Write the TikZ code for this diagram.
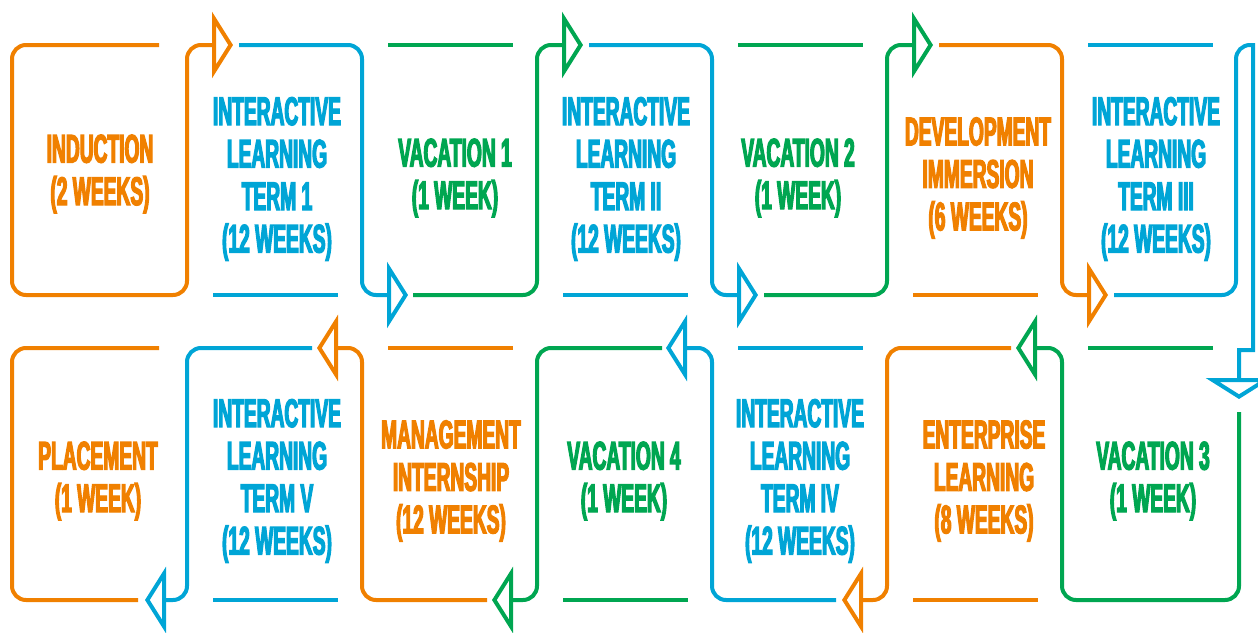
\documentclass[tikz,border=0pt]{standalone}
\usepackage{fontspec}
\newfontfamily\stagefont{Liberation Sans}[FakeStretch=0.48,FakeBold=3]
\usetikzlibrary{arrows.meta}
\definecolor{stageorange}{RGB}{240,128,0}
\definecolor{stageblue}{RGB}{0,165,214}
\definecolor{stagegreen}{RGB}{0,166,81}
\tikzset{
  stage/.style={align=center, font=\stagefont\bfseries\fontsize{40}{42.5}\selectfont},
  flow/.style={-{Triangle[open,length=21pt,width=66pt]}},
}
\begin{document}
\begin{tikzpicture}[x=1pt, y=-1pt, line width=4pt, rounded corners=14pt]
\useasboundingbox (0,0) rectangle (1258,632);
% top row, left to right
\draw[stageorange, flow] (159,45) -- (12,45) -- (12,295) -- (187,295) -- (187,45) -- (233,45);
\draw[stageblue, flow] (239,45) -- (362,45) -- (362,295) -- (408,295);
\draw[stagegreen, flow] (413,295) -- (537,295) -- (537,45) -- (583,45);
\draw[stageblue, flow] (589,45) -- (712,45) -- (712,295) -- (758,295);
\draw[stagegreen, flow] (764,295) -- (887,295) -- (887,45) -- (933,45);
\draw[stageorange, flow] (939,45) -- (1062,45) -- (1062,295) -- (1108,295);
\draw[stageblue, flow] (1114,295) -- (1236,295) -- (1236,45) [sharp corners] -- (1253,45)
  -- (1253,350) -- (1239,350) -- (1239,399);
% bottom row, right to left
\draw[stagegreen, flow] (1239,412) -- (1239,600) -- (1062,600) -- (1062,348) -- (1016,348);
\draw[stageorange, flow] (1011,348) -- (887,348) -- (887,600) -- (842,600);
\draw[stageblue, flow] (836,600) -- (712,600) -- (712,348) -- (666,348);
\draw[stagegreen, flow] (662,348) -- (537,348) -- (537,600) -- (492,600);
\draw[stageorange, flow] (487,600) -- (362,600) -- (362,348) -- (317,348);
\draw[stageblue, flow] (312,348) -- (187,348) -- (187,600) -- (145,600);
\draw[stageorange] (159,348) -- (12,348) -- (12,600) -- (138,600);
% open sides
\foreach \xa/\ya/\col in {213/295/stageblue, 388/45/stagegreen, 563/295/stageblue,
  738/45/stagegreen, 913/295/stageorange, 1088/45/stageblue,
  1088/348/stagegreen, 913/600/stageorange, 738/348/stageblue,
  563/600/stagegreen, 388/348/stageorange, 213/600/stageblue}
  \draw[\col] (\xa,\ya) -- ++(125,0);
% stage labels
\node[stage, text=stageorange] (induction) at (100,174) {INDUCTION\\(2 WEEKS)};
\node[stage, text=stageblue] (term1) at (277,179) {INTERACTIVE\\LEARNING\\TERM 1\\(12 WEEKS)};
\node[stage, text=stagegreen] (vac1) at (455,178) {VACATION 1\\(1 WEEK)};
\node[stage, text=stageblue] (term2) at (626,179) {INTERACTIVE\\LEARNING\\TERM II\\(12 WEEKS)};
\node[stage, text=stagegreen] (vac2) at (798,178) {VACATION 2\\(1 WEEK)};
\node[stage, text=stageorange] (devimm) at (978,178) {DEVELOPMENT\\IMMERSION\\(6 WEEKS)};
\node[stage, text=stageblue] (term3) at (1156,179) {INTERACTIVE\\LEARNING\\TERM III\\(12 WEEKS)};
\node[stage, text=stagegreen] (vac3) at (1153,481) {VACATION 3\\(1 WEEK)};
\node[stage, text=stageorange] (enterprise) at (984,481) {ENTERPRISE\\LEARNING\\(8 WEEKS)};
\node[stage, text=stageblue] (term4) at (800,481) {INTERACTIVE\\LEARNING\\TERM IV\\(12 WEEKS)};
\node[stage, text=stagegreen] (vac4) at (624,481) {VACATION 4\\(1 WEEK)};
\node[stage, text=stageorange] (mgmt) at (451,481) {MANAGEMENT\\INTERNSHIP\\(12 WEEKS)};
\node[stage, text=stageblue] (term5) at (277,481) {INTERACTIVE\\LEARNING\\TERM V\\(12 WEEKS)};
\node[stage, text=stageorange] (placement) at (98,481) {PLACEMENT\\(1 WEEK)};
\end{tikzpicture}
\end{document}
